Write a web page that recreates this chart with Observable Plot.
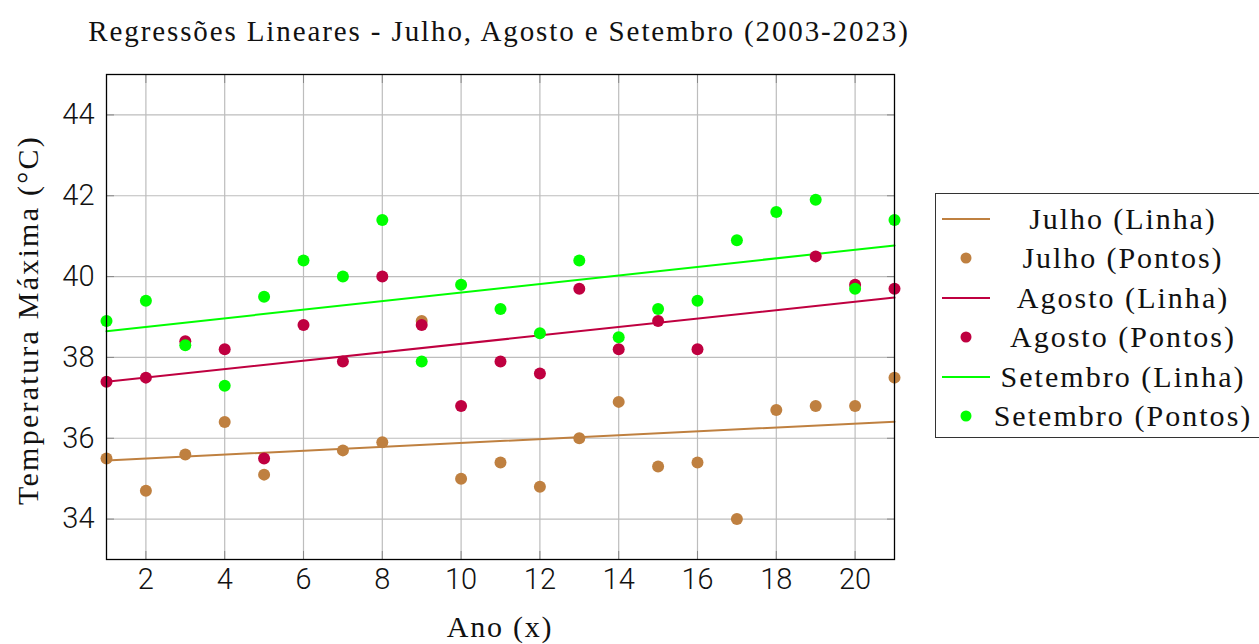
<!DOCTYPE html>
<html><head><meta charset="utf-8">
<script src="https://cdn.jsdelivr.net/npm/d3@7"></script>
<script src="https://cdn.jsdelivr.net/npm/@observablehq/plot@0.6"></script>
<style>
body{margin:0;background:#fff;}
#wrap{position:relative;width:1259px;height:644px;overflow:hidden;background:#fff;}
.serif{font-family:"Liberation Serif",serif;color:#111;position:absolute;white-space:nowrap;line-height:1;}
#title{left:499px;top:31px;font-size:29px;transform:translate(-50%,-50%);}
#xlab{left:500px;top:627px;font-size:30px;transform:translate(-50%,-50%);}
#ylab{left:28px;top:320px;font-size:30px;transform:translate(-50%,-50%) rotate(-90deg);}
#legend{position:absolute;left:935px;top:193px;width:340px;height:245px;border:1px solid #333;box-sizing:border-box;background:#fff;}
.row{position:absolute;left:0;width:340px;height:40px;}
.sym{position:absolute;left:6px;top:0;width:48px;height:40px;}
.txt{position:absolute;left:187px;top:20px;font-size:30px;font-family:"Liberation Serif",serif;color:#111;white-space:nowrap;line-height:1;transform:translate(-50%,-50%);}
#chart{position:absolute;left:0;top:0;}
</style>
</head><body>
<div id="wrap">
<div id="chart"></div>
<div id="title" class="serif">Regressões Lineares - Julho, Agosto e Setembro (2003-2023)</div>
<div id="xlab" class="serif">Ano (x)</div>
<div id="ylab" class="serif">Temperatura Máxima (°C)</div>
<div id="legend"></div>
</div>
<script>
// ---- data ----
const years = [1,2,3,4,5,6,7,8,9,10,11,12,13,14,15,16,17,18,19,20,21];
const julho    = [35.5,34.7,35.6,36.4,35.1,null,35.7,35.9,38.9,35.0,35.4,34.8,36.0,36.9,35.3,35.4,34.0,36.7,36.8,36.8,37.5];
const agosto   = [37.4,37.5,38.4,38.2,35.5,38.8,37.9,40.0,38.8,36.8,37.9,37.6,39.7,38.2,38.9,38.2,null,null,40.5,39.8,39.7];
const setembro = [38.9,39.4,38.3,37.3,39.5,40.4,40.0,41.4,37.9,39.8,39.2,38.6,40.4,38.5,39.2,39.4,40.9,41.6,41.9,39.7,41.4];
// regression lines: values at x = 1 and x = 21
const lineX = [1, 21];
const julhoLine = [35.45, 36.41];
const agostoLine = [37.40, 39.48];
const setembroLine = [38.65, 40.77];
const xTicks = [2,4,6,8,10,12,14,16,18,20];
const yTicks = [34,36,38,40,42,44];
const seriesNames = ["Julho","Agosto","Setembro"];
const colors = ["#bf8040","#bf0040","#00ff00"];

const pts = [];
[julho, agosto, setembro].forEach((arr, s) => arr.forEach((v, i) => { if (v != null) pts.push({s, x: years[i], y: v}); }));
const lines = [];
[julhoLine, agostoLine, setembroLine].forEach((arr, s) => arr.forEach((v, i) => lines.push({s, x: lineX[i], y: v})));

const tickFont = {fontFamily: "Roboto", fontSize: 29, fontWeight: 300};
const chart = Plot.plot({
  width: 1259, height: 644,
  marginLeft: 106, marginRight: 365, marginTop: 74, marginBottom: 85,
  x: {domain: [1, 21]},
  y: {domain: [33, 45]},
  style: {background: "transparent"},
  marks: [
    Plot.gridX(xTicks, {stroke: "#bdbdbd", strokeOpacity: 1, strokeWidth: 1.2}),
    Plot.gridY(yTicks, {stroke: "#bdbdbd", strokeOpacity: 1, strokeWidth: 1.2}),
    Plot.axisX(xTicks, {anchor: "bottom", tickSize: -8, fill: "none", stroke: "#888", label: null}),
    Plot.axisX(xTicks, {anchor: "top", tickSize: -8, fill: "none", stroke: "#888", label: null}),
    Plot.axisY(yTicks, {anchor: "left", tickSize: -8, fill: "none", stroke: "#888", label: null}),
    Plot.axisY(yTicks, {anchor: "right", tickSize: -8, fill: "none", stroke: "#888", label: null}),
    Plot.axisX(xTicks, {anchor: "bottom", tickSize: 0, tickPadding: 9, label: null, fill: "#111", ...tickFont}),
    Plot.axisY(yTicks, {anchor: "left", tickSize: 0, tickPadding: 12, label: null, fill: "#111", ...tickFont}),
    Plot.line(lines, {x: "x", y: "y", z: "s", stroke: d => colors[d.s], strokeWidth: 2}),
    Plot.dot(pts, {x: "x", y: "y", r: 6, fill: d => colors[d.s], stroke: "none"}),
    Plot.frame({stroke: "#000", strokeWidth: 1.3})
  ]
});
document.getElementById("chart").appendChild(chart);

// legend
const legend = document.getElementById("legend");
const entries = [];
seriesNames.forEach((n, s) => {
  entries.push({label: n + " (Linha)", kind: "line", c: colors[s]});
  entries.push({label: n + " (Pontos)", kind: "dot", c: colors[s]});
});
entries.forEach((e, i) => {
  const row = document.createElement("div");
  row.className = "row";
  row.style.top = (5 + i * 39.4) + "px";
  const sym = e.kind === "line"
    ? `<svg class="sym" viewBox="0 0 48 40"><line x1="0" x2="48" y1="20" y2="20" stroke="${e.c}" stroke-width="2"/></svg>`
    : `<svg class="sym" viewBox="0 0 48 40"><circle cx="24" cy="20" r="5.5" fill="${e.c}"/></svg>`;
  row.innerHTML = sym + `<div class="txt">${e.label}</div>`;
  legend.appendChild(row);
});

// widen the serif text to the widths seen in the reference (its font is wider)
function stretch(el, scale) {
  const n = el.textContent.length;
  const w = el.offsetWidth;
  el.style.letterSpacing = ((w * scale - w) / n) + "px";
}
stretch(document.getElementById("title"), 818 / 709);
stretch(document.getElementById("xlab"), 104 / 92);
stretch(document.getElementById("ylab"), 364 / 313);
legend.querySelectorAll(".txt").forEach(el => stretch(el, 187 / 162));
</script>
</body></html>
